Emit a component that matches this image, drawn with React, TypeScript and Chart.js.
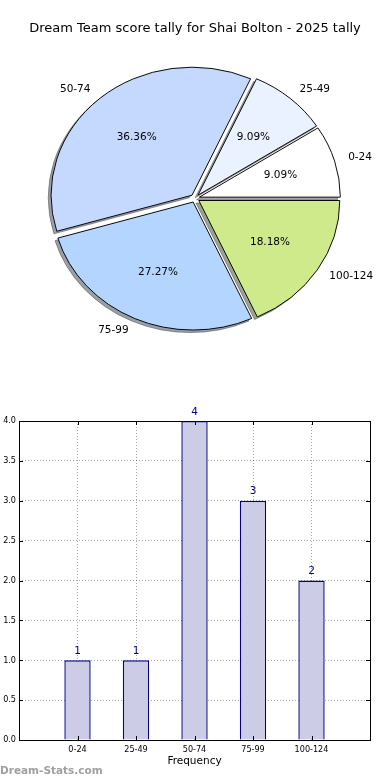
import React, { useEffect, useRef } from "react";
import { Chart, registerables } from "chart.js";

Chart.register(...registerables);

const TITLE = "Dream Team score tally for Shai Bolton - 2025 tally";
const categories = ["0-24", "25-49", "50-74", "75-99", "100-124"];
const counts = [1, 1, 4, 3, 2];
const pieColors = ["#ffffff", "#eaf2ff", "#c5d9ff", "#b3d5ff", "#ceea8a"];
const yTicks = { min: 0, max: 4, step: 0.5 };
const X_AXIS_TITLE = "Frequency";
const WATERMARK = "Dream-Stats.com";

const FONT = "DejaVu Sans";
const TICK_FONT = "'DejaVu Sans Condensed', 'DejaVu Sans'";
const SY = 128 / 141; // vertical squash of the pie (ellipse)
const EXPLODE = 0.032; // fraction of radius
const SHADOW = 0.02; // fraction of radius

// pie drawn counter-clockwise from 3 o'clock -> reverse for Chart.js (clockwise)
const pieLabels = [...categories].reverse();
const pieValues = [...counts].reverse();
const pieBg = [...pieColors].reverse();

function shadowOf(hex: string) {
  const n = parseInt(hex.slice(1), 16);
  const r = (n >> 16) & 255, g = (n >> 8) & 255, b = n & 255;
  return `rgba(${Math.round(r * 0.3)},${Math.round(g * 0.3)},${Math.round(b * 0.3)},0.5)`;
}

const piePlugin = {
  id: "piePlugin",
  beforeDatasetsDraw(chart: any) {
    const ctx = chart.ctx;
    const arcs = chart.getDatasetMeta(0).data;
    if (!arcs.length) return false;
    const cx = arcs[0].x, cy = arcs[0].y, R = arcs[0].outerRadius;
    const ex = EXPLODE * R, sh = SHADOW * R;
    ctx.save();
    ctx.translate(cx, cy);
    ctx.scale(1, SY);
    ctx.translate(-cx, -cy);
    arcs.forEach((el: any, i: number) => {
      const mid = (el.startAngle + el.endAngle) / 2;
      ctx.save();
      ctx.translate(Math.cos(mid) * ex - sh, Math.sin(mid) * ex + sh);
      const o = el.options;
      const s = shadowOf(pieBg[i]);
      el.options = { ...o, backgroundColor: s, borderColor: s };
      el.draw(ctx);
      el.options = o;
      ctx.restore();
    });
    arcs.forEach((el: any) => {
      const mid = (el.startAngle + el.endAngle) / 2;
      ctx.save();
      ctx.translate(Math.cos(mid) * ex, Math.sin(mid) * ex);
      el.draw(ctx);
      ctx.restore();
    });
    ctx.restore();
    return false;
  },
  afterDraw(chart: any) {
    const ctx = chart.ctx;
    const arcs = chart.getDatasetMeta(0).data;
    const total = pieValues.reduce((a, b) => a + b, 0);
    ctx.save();
    ctx.fillStyle = "#000";
    ctx.font = `10.5px "${FONT}"`;
    ctx.textBaseline = "middle";
    arcs.forEach((el: any, i: number) => {
      const cx = el.x, cy = el.y, R = el.outerRadius;
      const mid = (el.startAngle + el.endAngle) / 2;
      const c = Math.cos(mid), s = Math.sin(mid);
      const bx = cx + c * EXPLODE * R, by = cy + s * EXPLODE * R * SY;
      ctx.textAlign = c > 0 ? "left" : "right";
      ctx.fillText(pieLabels[i], bx + c * 1.1 * R, by + s * 1.1 * R * SY);
      ctx.textAlign = "center";
      const pct = ((pieValues[i] / total) * 100).toFixed(2) + "%";
      ctx.fillText(pct, bx + c * 0.6 * R, by + s * 0.6 * R * SY);
    });
    ctx.restore();
  },
};

const barPlugin = {
  id: "barPlugin",
  afterDraw(chart: any) {
    const ctx = chart.ctx;
    const { left, right, top, bottom } = chart.chartArea;
    const xs = chart.scales.x, ys = chart.scales.y;
    ctx.save();
    ctx.strokeStyle = "#000";
    ctx.lineWidth = 1;
    ctx.strokeRect(Math.round(left) + 0.5, Math.round(top) + 0.5, Math.round(right - left), Math.round(bottom - top));
    ctx.beginPath();
    categories.forEach((_, i) => {
      const px = Math.round(xs.getPixelForValue(i)) + 0.5;
      ctx.moveTo(px, bottom); ctx.lineTo(px, bottom - 4);
      ctx.moveTo(px, top); ctx.lineTo(px, top + 4);
    });
    for (let v = yTicks.min; v <= yTicks.max + 1e-9; v += yTicks.step) {
      const py = Math.round(ys.getPixelForValue(v)) + 0.5;
      ctx.moveTo(left, py); ctx.lineTo(left + 4, py);
      ctx.moveTo(right, py); ctx.lineTo(right - 4, py);
    }
    ctx.stroke();
    // value labels
    ctx.fillStyle = "#00008b";
    ctx.font = `10.5px "${FONT}"`;
    ctx.textAlign = "center";
    ctx.textBaseline = "middle";
    chart.getDatasetMeta(0).data.forEach((bar: any, i: number) => {
      ctx.fillText(String(counts[i]), bar.x, bar.y - 9);
    });
    ctx.restore();
  },
};

export default function App() {
  const pieRef = useRef<HTMLCanvasElement>(null);
  const barRef = useRef<HTMLCanvasElement>(null);

  useEffect(() => {
    const pie = new Chart(pieRef.current!, {
      type: "pie",
      data: {
        labels: pieLabels,
        datasets: [
          {
            data: pieValues,
            backgroundColor: pieBg,
            borderColor: "#000",
            borderWidth: 1,
            radius: 141,
          } as any,
        ],
      },
      options: {
        animation: false,
        responsive: false,
        events: [],
        rotation: 90,
        layout: { padding: { top: 0, bottom: 20, left: 0, right: 0 } },
        plugins: {
          legend: { display: false },
          tooltip: { enabled: false },
          title: {
            display: true,
            text: TITLE,
            color: "#000",
            font: { family: FONT, size: 13, weight: "normal" },
            padding: { top: 21, bottom: 0 },
          },
        },
      } as any,
      plugins: [piePlugin],
    });

    const gridColor = "rgba(0,0,0,0.35)";
    const bar = new Chart(barRef.current!, {
      type: "bar",
      data: {
        datasets: [
          {
            data: counts.map((c, i) => ({ x: i, y: c })),
            backgroundColor: "#ccccE6",
            borderColor: "#000080",
            borderWidth: 1.4,
            barPercentage: 0.45,
            categoryPercentage: 1,
          } as any,
        ],
      },
      options: {
        animation: false,
        responsive: false,
        events: [],
        layout: { padding: { top: 21, right: 20, left: 0, bottom: 0 } },
        plugins: { legend: { display: false }, tooltip: { enabled: false } },
        scales: {
          x: {
            type: "linear",
            min: -1,
            max: 5,
            offset: false,
            z: 1,
            grid: { offset: false, color: gridColor, lineWidth: 1, drawTicks: false },
            border: { display: false, dash: [1, 2] },
            ticks: {
              stepSize: 1,
              autoSkip: false,
              maxRotation: 0,
              padding: 4,
              color: "#000",
              font: { family: TICK_FONT, size: 9 },
              callback: (v: any) => categories[v] ?? "",
            },
            title: {
              display: true,
              text: X_AXIS_TITLE,
              color: "#000",
              font: { family: FONT, size: 10.5 },
              padding: { top: 0, bottom: 12 },
            },
            afterFit: (s: any) => {
              s.height = 40;
            },
          },
          y: {
            min: yTicks.min,
            max: yTicks.max,
            z: 1,
            grid: { color: gridColor, lineWidth: 1, drawTicks: false },
            border: { display: false, dash: [1, 2] },
            ticks: {
              stepSize: yTicks.step,
              padding: 3,
              color: "#000",
              font: { family: TICK_FONT, size: 9 },
              callback: (v: any) => Number(v).toFixed(1),
            },
            afterFit: (s: any) => {
              s.width = 19;
            },
          },
        },
      } as any,
      plugins: [barPlugin],
    });

    return () => {
      pie.destroy();
      bar.destroy();
    };
  }, []);

  return (
    <div style={{ position: "absolute", left: 0, top: 0, width: 390, height: 780, background: "#fff", overflow: "hidden" }}>
      <canvas ref={pieRef} width={390} height={380} style={{ position: "absolute", left: 0, top: 0, display: "block" }} />
      <canvas ref={barRef} width={390} height={380} style={{ position: "absolute", left: 0, top: 400, display: "block" }} />
      <div
        style={{
          position: "absolute",
          left: 0,
          top: 762,
          fontFamily: FONT,
          fontWeight: "bold",
          fontSize: 10.5,
          lineHeight: "16px",
          color: "#a0a0a0",
          whiteSpace: "nowrap",
        }}
      >
        {WATERMARK}
      </div>
    </div>
  );
}
